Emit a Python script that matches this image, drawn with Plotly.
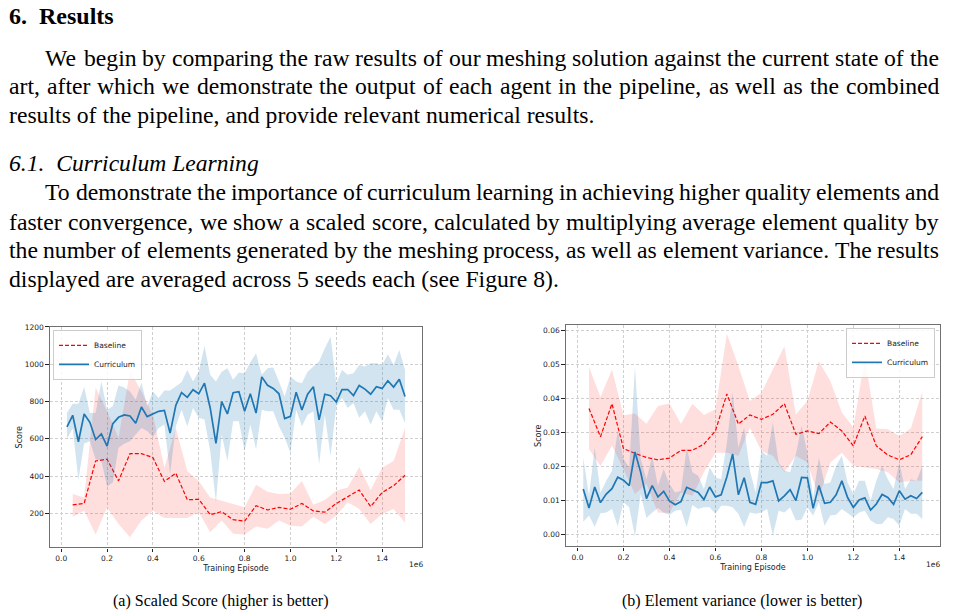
import plotly.graph_objects as go

W, H = 953, 615

# ---------------- data ----------------
cur_x = [0.025, 0.05, 0.075, 0.1, 0.125, 0.15, 0.175, 0.2, 0.225, 0.25,
         0.275, 0.3, 0.325, 0.35, 0.375, 0.4, 0.425, 0.45, 0.475, 0.5,
         0.525, 0.55, 0.575, 0.6, 0.625, 0.65, 0.675, 0.7, 0.725, 0.75,
         0.775, 0.8, 0.825, 0.85, 0.875, 0.9, 0.925, 0.95, 0.975, 1.0,
         1.025, 1.05, 1.075, 1.1, 1.125, 1.15, 1.175, 1.2, 1.225, 1.25,
         1.275, 1.3, 1.325, 1.35, 1.375, 1.4, 1.425, 1.45, 1.475, 1.5]
base_x = [0.05, 0.1, 0.15, 0.2, 0.25, 0.3, 0.35, 0.4, 0.45, 0.5,
          0.55, 0.6, 0.65, 0.7, 0.75, 0.8, 0.85, 0.9, 0.95, 1.0,
          1.05, 1.1, 1.15, 1.2, 1.25, 1.3, 1.35, 1.4, 1.45, 1.5]

# (a) scaled score
score_cur = [664, 726, 584, 733, 688, 596, 626, 561, 681, 715,
             728, 722, 683, 770, 719, 733, 747, 752, 630, 779,
             848, 822, 863, 841, 898, 765, 575, 799, 733, 847,
             852, 747, 841, 738, 932, 887, 870, 841, 708, 720,
             850, 754, 839, 879, 701, 839, 831, 797, 864, 864,
             832, 886, 866, 839, 879, 870, 911, 877, 919, 827]
score_cur_hi = [738, 788, 788, 877, 738, 738, 907, 756, 774, 886,
                875, 854, 809, 902, 774, 854, 818, 859, 859, 880,
                903, 969, 907, 960, 1097, 943, 907, 960, 978, 916,
                955, 951, 1010, 1058, 943, 978, 982, 907, 827, 934,
                907, 898, 960, 987, 1014, 1085, 1147, 898, 969, 943,
                951, 996, 987, 1005, 1005, 996, 1053, 996, 1076, 969]
score_cur_lo = [600, 655, 380, 575, 587, 490, 481, 344, 365, 552,
                573, 587, 623, 658, 641, 609, 658, 676, 410, 667,
                756, 667, 765, 712, 703, 534, 259, 623, 481, 694,
                694, 534, 676, 543, 756, 747, 747, 667, 605, 525,
                756, 667, 729, 747, 463, 729, 507, 774, 818, 765,
                792, 712, 747, 676, 747, 694, 818, 756, 756, 685]
score_base = [245, 253, 481, 490, 374, 520, 520, 499, 371, 415,
              273, 275, 193, 209, 166, 158, 241, 218, 232, 222,
              253, 213, 206, 253, 289, 325, 236, 312, 348, 404]
score_base_hi = [303, 285, 875, 747, 605, 964, 854, 729, 445, 658,
                 427, 374, 285, 268, 250, 232, 353, 316, 303, 307,
                 374, 246, 271, 321, 339, 449, 325, 445, 481, 658]
score_base_lo = [182, 214, 87, 232, 143, 72, 161, 214, 175, 175,
                 175, 206, 99, 161, 90, 87, 129, 117, 161, 134,
                 129, 182, 143, 188, 259, 223, 143, 197, 223, 150]

# (b) element variance
var_cur = [0.0134, 0.0078, 0.0140, 0.0094, 0.0119, 0.0135, 0.0169, 0.0160, 0.0144, 0.0243,
           0.0183, 0.0106, 0.0144, 0.0111, 0.0127, 0.0099, 0.0088, 0.0097, 0.0139, 0.0132,
           0.0124, 0.0103, 0.0140, 0.0111, 0.0117, 0.0170, 0.0237, 0.0117, 0.0167, 0.0095,
           0.0089, 0.0153, 0.0153, 0.0158, 0.0099, 0.0114, 0.0132, 0.0100, 0.0168, 0.0167,
           0.0077, 0.0144, 0.0092, 0.0095, 0.0117, 0.0158, 0.0109, 0.0080, 0.0102, 0.0108,
           0.0072, 0.0090, 0.0118, 0.0109, 0.0089, 0.0129, 0.0104, 0.0114, 0.0106, 0.0124]
var_cur_hi = [0.0227, 0.0114, 0.0256, 0.0124, 0.0158, 0.0188, 0.0305, 0.0222, 0.0197, 0.0494,
              0.0222, 0.0163, 0.0232, 0.0144, 0.0193, 0.0149, 0.0124, 0.0129, 0.0256, 0.0183,
              0.0173, 0.0134, 0.0197, 0.0168, 0.0163, 0.0271, 0.0417, 0.0256, 0.0315, 0.0188,
              0.0124, 0.0246, 0.0232, 0.0329, 0.0212, 0.0188, 0.0183, 0.0237, 0.0320, 0.0241,
              0.0109, 0.0227, 0.0149, 0.0153, 0.0202, 0.0232, 0.0153, 0.0119, 0.0158, 0.0158,
              0.0100, 0.0158, 0.0202, 0.0163, 0.0134, 0.0212, 0.0134, 0.0163, 0.0158, 0.0202]
var_cur_lo = [0.0038, 0.0056, 0.0023, 0.0063, 0.0065, 0.0075, 0.0024, 0.0095, 0.0080, -0.0006,
              0.0119, 0.0049, 0.0065, 0.0078, 0.0064, 0.0058, 0.0070, 0.0073, 0.0022, 0.0087,
              0.0075, 0.0080, 0.0080, 0.0061, 0.0085, 0.0085, 0.0080, 0.0061, 0.0022, 0.0065,
              0.0061, 0.0065, 0.0075, -0.0003, 0.0070, 0.0065, 0.0080, 0.0041, 0.0044, 0.0080,
              0.0056, 0.0095, 0.0026, 0.0056, 0.0058, 0.0075, 0.0064, 0.0051, 0.0065, 0.0070,
              0.0041, 0.0031, 0.0031, 0.0051, 0.0046, 0.0026, 0.0075, 0.0061, 0.0061, 0.0046]
var_base = [0.0371, 0.0288, 0.0385, 0.0253, 0.0239, 0.0227, 0.0220, 0.0225, 0.0248, 0.0248,
            0.0266, 0.0305, 0.0414, 0.0325, 0.0352, 0.0339, 0.0354, 0.0385, 0.0295, 0.0305,
            0.0297, 0.0331, 0.0305, 0.0261, 0.0349, 0.0261, 0.0234, 0.0220, 0.0235, 0.0288]
var_base_hi = [0.0493, 0.0405, 0.0486, 0.0351, 0.0356, 0.0326, 0.0378, 0.0386, 0.0326, 0.0385,
               0.0352, 0.0369, 0.0591, 0.0496, 0.0393, 0.0417, 0.0486, 0.0554, 0.0354, 0.0393,
               0.0510, 0.0452, 0.0359, 0.0315, 0.0520, 0.0312, 0.0310, 0.0290, 0.0312, 0.0422]
var_base_lo = [0.0251, 0.0202, 0.0261, 0.0193, 0.0119, 0.0149, 0.0064, 0.0064, 0.0124, 0.0114,
               0.0183, 0.0241, 0.0241, 0.0232, 0.0315, 0.0246, 0.0232, 0.0183, 0.0232, 0.0212,
               0.0109, 0.0212, 0.0241, 0.0202, 0.0197, 0.0193, 0.0183, 0.0153, 0.0158, 0.0158]

x_ticks = [0.0, 0.2, 0.4, 0.6, 0.8, 1.0, 1.2, 1.4]
score_ticks = [200, 400, 600, 800, 1000, 1200]
var_ticks = [0.00, 0.01, 0.02, 0.03, 0.04, 0.05, 0.06]

series_names = ["Baseline", "Curriculum"]
caption_a = "(a) Scaled Score (higher is better)"
caption_b = "(b) Element variance (lower is better)"

heading = "6.  Results"
subheading = "6.1.  Curriculum Learning"
para1 = ["We begin by comparing the raw results of our meshing solution against the current state of the",
         "art, after which we demonstrate the output of each agent in the pipeline, as well as the combined",
         "results of the pipeline, and provide relevant numerical results."]
para2 = ["To demonstrate the importance of curriculum learning in achieving higher quality elements and",
         "faster convergence, we show a scaled score, calculated by multiplying average element quality by",
         "the number of elements generated by the meshing process, as well as element variance. The results",
         "displayed are averaged across 5 seeds each (see Figure 8)."]

# ---------------- styles ----------------
RED = "#ff0000"
BLUE = "#1f77b4"
RED_FILL = "rgba(255,0,0,0.13)"
BLUE_FILL = "rgba(31,119,180,0.2)"
SERIF = "Liberation Serif"
SANS = "DejaVu Sans"

fig = go.Figure()


def add_panel(xa, ya, legend, b_x, b_m, b_hi, b_lo, c_x, c_m, c_hi, c_lo):
    fig.add_trace(go.Scatter(x=b_x + b_x[::-1], y=b_hi + b_lo[::-1], fill="toself",
                             fillcolor=RED_FILL, line=dict(width=0), mode="lines",
                             hoverinfo="skip", showlegend=False, xaxis=xa, yaxis=ya))
    fig.add_trace(go.Scatter(x=b_x, y=b_m, mode="lines", name=series_names[0],
                             line=dict(color=RED, width=1.2, dash="4px,2px"),
                             legend=legend, xaxis=xa, yaxis=ya))
    fig.add_trace(go.Scatter(x=c_x + c_x[::-1], y=c_hi + c_lo[::-1], fill="toself",
                             fillcolor=BLUE_FILL, line=dict(width=0), mode="lines",
                             hoverinfo="skip", showlegend=False, xaxis=xa, yaxis=ya))
    fig.add_trace(go.Scatter(x=c_x, y=c_m, mode="lines", name=series_names[1],
                             line=dict(color=BLUE, width=1.7),
                             legend=legend, xaxis=xa, yaxis=ya))


add_panel("x", "y", "legend", base_x, score_base, score_base_hi, score_base_lo,
          cur_x, score_cur, score_cur_hi, score_cur_lo)
add_panel("x2", "y2", "legend2", base_x, var_base, var_base_hi, var_base_lo,
          cur_x, var_cur, var_cur_hi, var_cur_lo)

axis_common = dict(showline=True, mirror=True, linecolor="#707070", linewidth=1.4,
                   ticks="outside", ticklen=3.5, tickwidth=0.8, tickcolor="#222",
                   showgrid=True, gridcolor="#d0d0d0", griddash="3px,2px", gridwidth=0.8,
                   zeroline=False, tickfont=dict(family=SANS, size=7.5, color="#222"))
title_font = dict(family=SANS, size=8, color="#222")


def px_x(p):
    return p / W


def px_y(p):
    return 1 - p / H


fig.update_layout(
    width=W, height=H, margin=dict(l=0, r=0, t=0, b=0),
    paper_bgcolor="white", plot_bgcolor="white",
    xaxis=dict(domain=[px_x(50), px_x(422)], range=[-0.049, 1.574], tickvals=x_ticks,
               tickformat=".1f", anchor="y",
               title=dict(text="Training Episode", font=title_font, standoff=3),
               **axis_common),
    yaxis=dict(domain=[px_y(547), px_y(325)], range=[17, 1200], tickvals=score_ticks,
               tickformat="d", anchor="x",
               title=dict(text="Score", font=title_font, standoff=0), **axis_common),
    xaxis2=dict(domain=[px_x(566), px_x(940)], range=[-0.05, 1.577], tickvals=x_ticks,
                tickformat=".1f", anchor="y2",
                title=dict(text="Training Episode", font=title_font, standoff=3),
                **axis_common),
    yaxis2=dict(domain=[px_y(546), px_y(323)], range=[-0.0035, 0.0617], tickvals=var_ticks,
                tickformat=".2f", anchor="x2",
                title=dict(text="Score", font=title_font, standoff=0), **axis_common),
    legend=dict(x=px_x(53), y=px_y(328), xanchor="left", yanchor="top",
                bgcolor="rgba(255,255,255,0.85)", bordercolor="#cccccc", borderwidth=1,
                font=dict(family=SANS, size=7.5, color="#222"), itemwidth=30,
                tracegroupgap=0),
    legend2=dict(x=px_x(935), y=px_y(326), xanchor="right", yanchor="top",
                 bgcolor="rgba(255,255,255,0.85)", bordercolor="#cccccc", borderwidth=1,
                 font=dict(family=SANS, size=7.5, color="#222"), itemwidth=30,
                 tracegroupgap=0),
)


def text(t, x, y, anchor="left", size=23.7, family=SERIF, color="#000"):
    fig.add_annotation(text=t, x=px_x(x), y=px_y(y), xref="paper", yref="paper",
                       xanchor=anchor, yanchor="middle", showarrow=False,
                       font=dict(family=family, size=size, color=color))


# Times-compatible advance widths (per 1000 em) for justifying lines word by word
_W = dict(zip("abcdefghijklmnopqrstuvwxyz",
              [444, 500, 444, 500, 444, 333, 500, 500, 278, 278, 500, 278, 778,
               500, 500, 500, 500, 333, 389, 278, 500, 500, 722, 500, 500, 444]))
_W.update(dict(zip("ABCDEFGHIJKLMNOPQRSTUVWXYZ",
                   [722, 667, 667, 722, 611, 556, 722, 722, 333, 389, 722, 611, 889,
                    722, 722, 556, 722, 667, 556, 611, 722, 722, 944, 722, 722, 611])))
_W.update({c: 500 for c in "0123456789"})
_W.update({",": 250, ".": 250, "(": 333, ")": 333, "-": 333, ":": 278})


def word_width(wd, size):
    return sum(_W.get(c, 500) for c in wd) / 1000 * size


def justified_line(line, x0, x1, y, size=23.7):
    words = line.split()
    widths = [word_width(wd, size) for wd in words]
    gap = (x1 - x0 - sum(widths)) / (len(words) - 1)
    x = x0
    for wd, w in zip(words, widths):
        text(wd, x, y, anchor="left", size=size)
        x += w + gap


L, R, IND = 7, 937, 43
DY = -3

text("<b>" + heading + "</b>", L, 15 + DY, size=24)

justified_line(para1[0], IND, R, 57 + DY)
justified_line(para1[1], L, R, 86 + DY)
text(para1[2], L, 115 + DY)

text("<i>" + subheading + "</i>", L, 163 + DY, size=23.6)

justified_line(para2[0], IND, R, 192 + DY)
justified_line(para2[1], L, R, 222 + DY)
justified_line(para2[2], L, R, 251 + DY)
text(para2[3], L, 280 + DY)

# offset labels
text("1e6", 416, 564, anchor="center", size=7.5, family=SANS, color="#222")
text("1e6", 933, 564, anchor="center", size=7.5, family=SANS, color="#222")

# captions
text(caption_a, 220, 601, anchor="center", size=16)
text(caption_b, 742, 601, anchor="center", size=16)

fig.write_html("out.html")
